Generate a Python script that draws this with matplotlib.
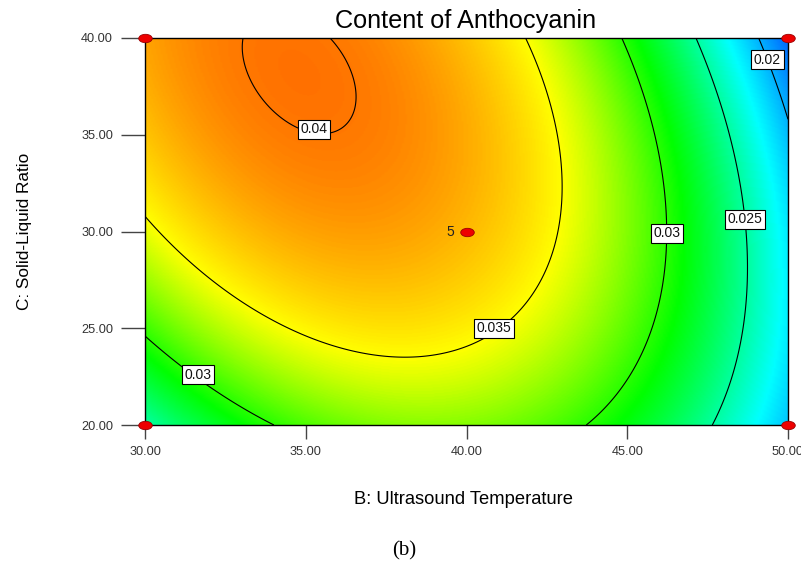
import numpy as np
import matplotlib
matplotlib.use("Agg")
import matplotlib.pyplot as plt
from matplotlib.colors import LinearSegmentedColormap, Normalize
from matplotlib.markers import MarkerStyle
from matplotlib.transforms import Affine2D, ScaledTranslation

# Factor ranges (actual units)
B_range = [30.0, 50.0]   # ultrasound temperature
C_range = [20.0, 40.0]   # solid-liquid ratio

# Quadratic response model in coded units (x = B coded, y = C coded):
# intercept, B, C, BC, B^2, C^2
coef_names = ["b0", "bB", "bC", "bBC", "bBB", "bCC"]
coef_vals = [0.037546, -0.006295, 0.002576, -0.004177, -0.009354, -0.002882]

# Contour levels shown on the plot
levels = [0.02, 0.025, 0.03, 0.035, 0.04]
# Where each contour label sits (B, C)
label_pos = [(49.4, 38.9), (48.5, 30.6), (46.1, 29.9), (31.8, 22.7), (40.7, 25.2), (35.3, 35.4)]

# Design points and replicate counts
pts_B = [30, 30, 50, 50, 40]
pts_C = [20, 40, 20, 40, 30]
pts_n = [1, 1, 1, 1, 5]

# Colour scale stops (response value, colour)
cmap_vals = [0.0140, 0.0225, 0.0290, 0.0350, 0.0445]
cmap_cols = ["#0000ff", "#00ffff", "#00ff00", "#ffff00", "#ff0000"]


def response(B, C):
    c = dict(zip(coef_names, coef_vals))
    x = (B - 40.0) / 10.0
    y = (C - 30.0) / 10.0
    return (c["b0"] + c["bB"] * x + c["bC"] * y + c["bBC"] * x * y
            + c["bBB"] * x ** 2 + c["bCC"] * y ** 2)


vmin, vmax = cmap_vals[0], cmap_vals[-1]
stops = [(v - vmin) / (vmax - vmin) for v in cmap_vals]
cmap = LinearSegmentedColormap.from_list("de", list(zip(stops, cmap_cols)))

Bg = np.linspace(B_range[0], B_range[1], 400)
Cg = np.linspace(C_range[0], C_range[1], 400)
BB, CC = np.meshgrid(Bg, Cg)
Z = response(BB, CC)

plt.rcParams["font.family"] = ["Liberation Sans", "DejaVu Sans"]
fig = plt.figure(figsize=(8.01, 5.62), dpi=100)
ax = fig.add_axes([145 / 801, 1 - 425 / 562, 643 / 801, 387 / 562])

ax.imshow(Z, extent=[B_range[0], B_range[1], C_range[0], C_range[1]], origin="lower",
          cmap=cmap, norm=Normalize(vmin, vmax), aspect="auto", interpolation="bilinear")
cs = ax.contour(BB, CC, Z, levels=levels, colors="black", linewidths=0.8)
labels = ax.clabel(cs, fmt=lambda v: f"{v:g}", manual=label_pos, inline=False, fontsize=10)
for t in labels:
    t.set_rotation(0)
    t.set_color("#111111")
    t.set_bbox(dict(boxstyle="square,pad=0.18", fc="white", ec="black", lw=0.8))
    # labels on the flatter curves sit a little above their line
    if t.get_text() in ("0.04", "0.035") or (t.get_text() == "0.03" and t.get_position()[0] < 40):
        t.set_transform(ax.transData + ScaledTranslation(0, 4 / 100, fig.dpi_scale_trans))

# Design points drawn as flattened red ovals
oval = MarkerStyle("o", transform=Affine2D().scale(1.0, 0.62))
ax.scatter(pts_B, pts_C, s=95, marker=oval, color="#ee0000", edgecolors="#990000",
           linewidths=0.6, zorder=5, clip_on=False)
for b, c, n in zip(pts_B, pts_C, pts_n):
    if n > 1:
        ax.text(b - 0.38, c, str(n), ha="right", va="center", fontsize=10, color="#222222")

ax.set_xlim(B_range)
ax.set_ylim(C_range)
xt = np.arange(30, 50.1, 5)
yt = np.arange(20, 40.1, 5)
ax.set_xticks(xt)
ax.set_yticks(yt)
ax.set_xticklabels([f"{v:.2f}" for v in xt])
ax.set_yticklabels([f"{v:.2f}" for v in yt])
ax.tick_params(axis="x", length=10, width=1, color="#444444", labelsize=9.2,
               labelcolor="#333333", pad=5)
ax.tick_params(axis="y", length=17, width=1, color="#444444", labelsize=9.2,
               labelcolor="#333333", pad=6)
for s in ax.spines.values():
    s.set_linewidth(1)

fig.text(466 / 801, 1 - 21 / 562, "Content of Anthocyanin", ha="center", va="center",
         fontsize=18.2)
fig.text(463 / 801, 1 - 499 / 562, "B: Ultrasound Temperature", ha="center", va="center",
         fontsize=13.2)
fig.text(25 / 801, 1 - 231 / 562, "C: Solid-Liquid Ratio", ha="center", va="center",
         rotation=90, fontsize=12.4)
fig.text(404 / 801, 1 - 551 / 562, "(b)", ha="center", va="center", fontsize=15,
         family="Liberation Serif")

fig.savefig("out.png", dpi=100)
